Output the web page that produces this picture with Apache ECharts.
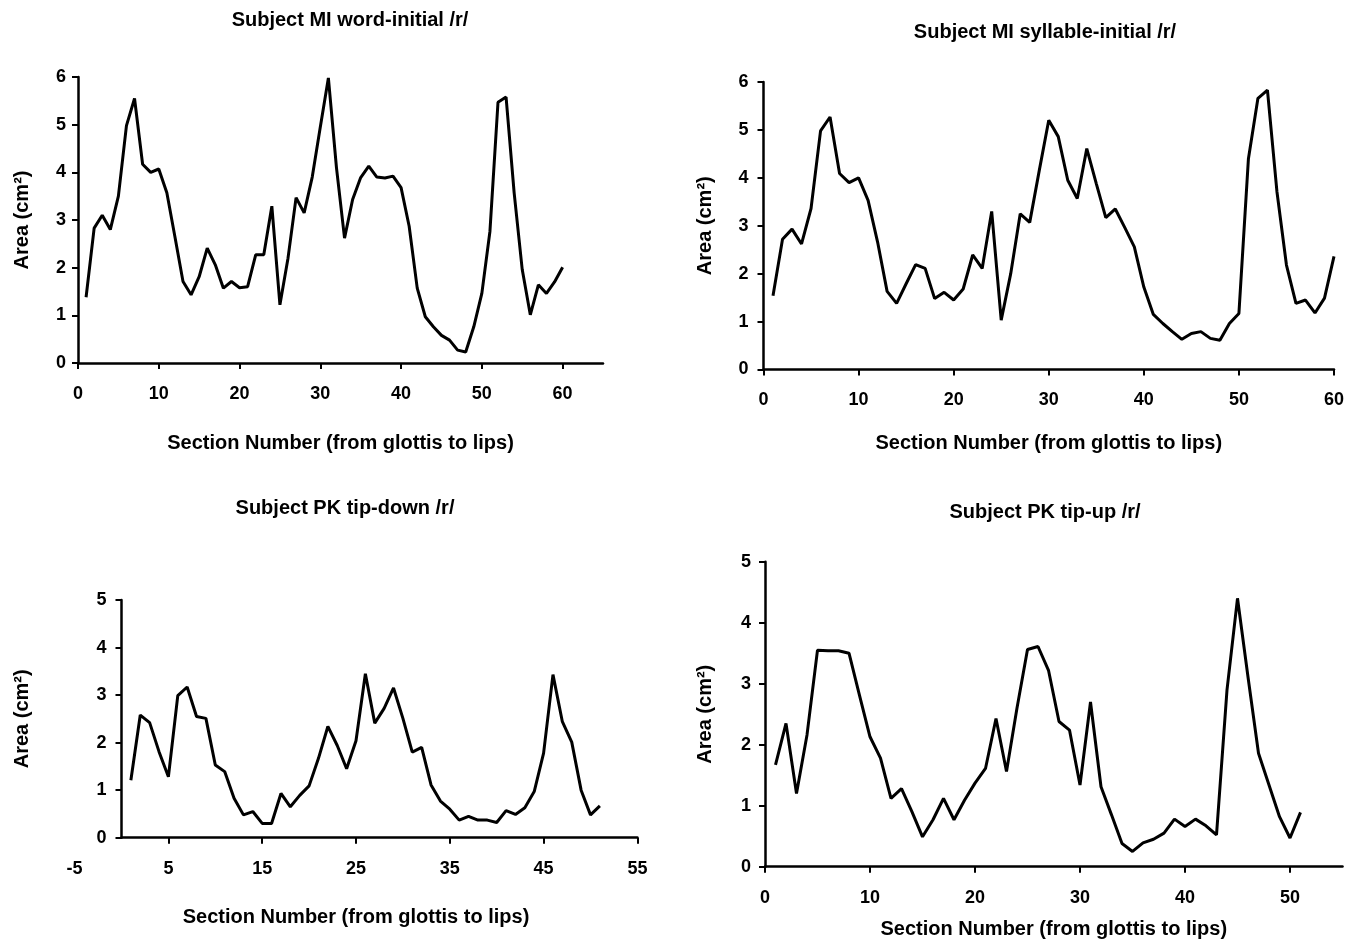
<!DOCTYPE html>
<html>
<head>
<meta charset="utf-8">
<script src="https://cdn.jsdelivr.net/npm/echarts@6/dist/echarts.min.js"></script>
<style>
html,body{margin:0;padding:0;background:#fff;}
#chart{width:1348px;height:941px;}
</style>
</head>
<body>
<div id="chart"></div>
<script>
// ---------- DATA ----------
const titles = [
  'Subject MI word-initial /r/',
  'Subject MI syllable-initial /r/',
  'Subject PK tip-down /r/',
  'Subject PK tip-up /r/'
];
const xAxisTitle = 'Section Number (from glottis to lips)';
const yAxisTitle = 'Area (cm\u00B2)';

const sectionsMI = [1,2,3,4,5,6,7,8,9,10,11,12,13,14,15,16,17,18,19,20,21,22,23,24,25,26,27,28,29,30,
  31,32,33,34,35,36,37,38,39,40,41,42,43,44,45,46,47,48,49,50,51,52,53,54,55,56,57,58,59,60];
const sectionsPK = [1,2,3,4,5,6,7,8,9,10,11,12,13,14,15,16,17,18,19,20,21,22,23,24,25,26,27,28,29,30,
  31,32,33,34,35,36,37,38,39,40,41,42,43,44,45,46,47,48,49,50,51];

const areaMIwordInitial = [1.38,2.83,3.10,2.80,3.50,4.98,5.55,4.17,4.00,4.07,
  3.57,2.65,1.71,1.43,1.81,2.41,2.06,1.57,1.71,1.58,
  1.60,2.27,2.27,3.29,1.22,2.20,3.47,3.15,3.90,4.95,
  5.98,4.10,2.62,3.43,3.89,4.13,3.90,3.88,3.92,3.68,
  2.87,1.57,0.97,0.76,0.58,0.48,0.27,0.23,0.76,1.46,
  2.76,5.47,5.58,3.57,1.96,1.01,1.64,1.46,1.70,2.01];
const areaMIsyllableInitial = [1.54,2.72,2.93,2.62,3.36,4.98,5.27,4.09,3.90,4.00,
  3.53,2.66,1.63,1.38,1.79,2.19,2.11,1.48,1.61,1.45,
  1.68,2.39,2.11,3.30,1.03,2.00,3.25,3.07,4.15,5.20,
  4.86,3.95,3.57,4.61,3.88,3.17,3.35,2.96,2.56,1.72,
  1.15,0.96,0.79,0.63,0.75,0.79,0.65,0.61,0.96,1.17,
  4.40,5.66,5.83,3.71,2.18,1.38,1.45,1.18,1.49,2.36];
const areaPKtipDown = [1.21,2.58,2.42,1.81,1.28,2.99,3.17,2.55,2.51,1.53,
  1.39,0.83,0.48,0.55,0.30,0.30,0.93,0.65,0.89,1.09,
  1.67,2.34,1.94,1.45,2.04,3.45,2.41,2.72,3.15,2.51,
  1.80,1.90,1.11,0.77,0.60,0.37,0.45,0.37,0.37,0.32,
  0.57,0.49,0.63,0.97,1.78,3.43,2.44,2.01,1.00,0.48,0.67];
const areaPKtipUp = [1.67,2.35,1.20,2.16,3.55,3.54,3.54,3.50,2.81,2.13,
  1.78,1.12,1.28,0.90,0.49,0.77,1.12,0.77,1.09,1.37,
  1.61,2.43,1.56,2.60,3.56,3.61,3.22,2.38,2.24,1.34,
  2.70,1.31,0.85,0.38,0.25,0.39,0.45,0.55,0.78,0.66,
  0.78,0.67,0.52,2.90,4.40,3.11,1.86,1.34,0.82,0.47,0.89];

const xTicksMI1 = [0,10,20,30,40,50,60];
const xTicksMI2 = [0,10,20,30,40,50,60];
const xTicksPKdown = [-5,5,15,25,35,45,55];
const xTickMarksPKdown = [5,15,25,35,45,55];
const xTicksPKup = [0,10,20,30,40,50];

// ---------- STYLE ----------
const FONT = '"Liberation Sans", Arial, Helvetica, sans-serif';
const lineAxis = {show:true, onZero:false, lineStyle:{color:'#000', width:2.5}};
const tickStyle = {show:true, length:6, inside:false, lineStyle:{color:'#000', width:2}};
function lbl(extra){ return Object.assign({color:'#000', fontSize:18, fontWeight:'bold', fontFamily:FONT}, extra); }
const nameStyle = {color:'#000', fontSize:20, fontWeight:'bold', fontFamily:FONT};

function pairs(xs, ys){ return xs.map((x,i)=>[x, ys[i]]); }

const gridBase = {outerBoundsMode:'none', containLabel:false};
const grids = [
  {left:78, top:77, width:525, height:286},
  {left:763.5, top:82, width:570.5, height:287.5},
  {left:74.6, top:600, width:562.8, height:237.7},
  {left:765, top:561.7, width:577.5, height:305},
  {left:121.5, top:600, width:515.9, height:237.7}
].map(g => Object.assign({}, gridBase, g));

function xAx(grid, min, max, labels, ticks, gap, showLine){
  return {
    type:'value', gridIndex:grid, min:min, max:max,
    axisLine: showLine === false ? {show:false, onZero:false} : lineAxis,
    axisTick: ticks ? Object.assign({}, tickStyle, {customValues:ticks}) : {show:false},
    axisLabel: labels ? lbl({margin:22, customValues:labels}) : {show:false},
    splitLine:{show:false},
    name: labels ? xAxisTitle : '', nameLocation:'middle', nameGap:gap, nameTextStyle:nameStyle
  };
}
function yAx(grid, max, gap, margin, show){
  if (show === false) {
    return {type:'value', gridIndex:grid, min:0, max:max, interval:1, show:false,
      axisLine:{show:false, onZero:false}};
  }
  return {
    type:'value', gridIndex:grid, min:0, max:max, interval:1,
    axisLine: lineAxis, axisTick: tickStyle,
    axisLabel: lbl({margin:margin}),
    splitLine:{show:false},
    name: yAxisTitle, nameLocation:'middle', nameRotate:90, nameGap:gap, nameTextStyle:nameStyle
  };
}

const titleCenters = [[350,10],[1045,22],[345,498],[1045,502]];

const option = {
  backgroundColor:'#fff',
  animation:false,
  title: titles.map((t,i)=>({
    text:t, left:titleCenters[i][0], top:titleCenters[i][1], textAlign:'center', padding:0,
    textStyle:{color:'#000', fontSize:20, fontWeight:'bold', fontFamily:FONT}
  })),
  grid: grids,
  xAxis: [
    xAx(0, 0, 65, xTicksMI1, xTicksMI1, 70),
    xAx(1, 0, 60, xTicksMI2, xTicksMI2, 64),
    xAx(2, -5, 55, xTicksPKdown, null, 70, false),
    xAx(3, 0, 55, xTicksPKup, xTicksPKup, 53),
    xAx(4, 0, 55, null, xTickMarksPKdown, 0)
  ],
  yAxis: [
    yAx(0, 6, 46, 12),
    yAx(1, 6, 48, 15),
    yAx(2, 5, 0, 0, false),
    yAx(3, 5, 50, 14),
    yAx(4, 5, 89, 15)
  ],
  series: [
    {data:pairs(sectionsMI, areaMIwordInitial), xAxisIndex:0, yAxisIndex:0},
    {data:pairs(sectionsMI, areaMIsyllableInitial), xAxisIndex:1, yAxisIndex:1},
    {data:pairs(sectionsPK, areaPKtipDown), xAxisIndex:2, yAxisIndex:2},
    {data:pairs(sectionsPK, areaPKtipUp), xAxisIndex:3, yAxisIndex:3}
  ].map(s => Object.assign({type:'line', showSymbol:false, symbol:'none', silent:true,
      lineStyle:{color:'#000', width:3}, itemStyle:{color:'#000'}}, s))
};

const chart = echarts.init(document.getElementById('chart'), null, {renderer:'canvas'});
chart.setOption(option);
</script>
</body>
</html>
